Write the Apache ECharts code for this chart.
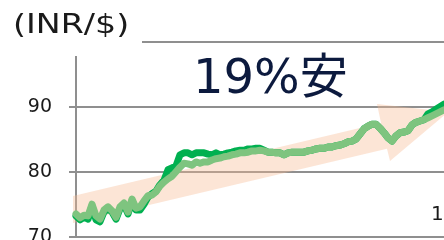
<!DOCTYPE html>
<html>
<head>
<meta charset="utf-8">
<script src="https://cdn.jsdelivr.net/npm/echarts@6/dist/echarts.min.js"></script>
<style>
html, body { margin: 0; padding: 0; background: #fff; }
#chart { width: 444px; height: 240px; }
</style>
</head>
<body>
<div id="chart"></div>
<script>
// INR per USD (evenly spaced samples)
var rateLight = [
	73.5, 72.9, 73.3, 73.2, 75.0, 73.2, 72.7, 74.1, 74.6, 74.0,
	73.0, 74.6, 75.2, 73.8, 75.8, 74.4, 74.6, 75.5, 76.3, 76.4,
	76.9, 77.8, 78.4, 78.9, 79.3, 80.0, 80.7, 81.3, 81.2, 81.0,
	81.5, 81.3, 81.5, 81.5, 81.8, 82.0, 82.1, 82.3, 82.4, 82.6,
	82.7, 82.9, 82.9, 83.0, 83.2, 83.2, 83.3, 83.2, 83.0, 83.0,
	82.9, 82.9, 82.6, 82.9, 83.0, 83.0, 83.0, 83.0, 83.2, 83.3,
	83.5, 83.6, 83.6, 83.8, 83.8, 84.0, 84.1, 84.3, 84.6, 84.7,
	85.0, 85.8, 86.6, 87.0, 87.3, 87.3, 86.7, 86.0, 85.2, 84.7,
	85.5, 86.0, 86.1, 86.3, 87.2, 87.6, 87.8, 88.0, 88.3, 88.6,
	88.9, 89.2, 89.5
];
var rateDark = [
	73.2, 72.6, 73.0, 72.7, 74.7, 72.6, 72.3, 73.8, 74.3, 73.8,
	72.7, 74.3, 74.9, 73.5, 75.5, 74.1, 74.1, 75.0, 76.1, 76.6,
	77.0, 78.0, 78.7, 80.3, 80.6, 80.9, 82.6, 82.9, 82.9, 82.6,
	82.9, 82.9, 82.9, 82.7, 82.6, 82.9, 82.6, 82.7, 82.9, 83.0,
	83.2, 83.3, 83.3, 83.5, 83.5, 83.6, 83.6, 83.3, 83.0, 83.0,
	82.9, 82.9, 82.6, 82.9, 83.0, 83.0, 83.0, 83.0, 83.2, 83.3,
	83.5, 83.6, 83.6, 83.8, 83.8, 84.0, 84.1, 84.3, 84.6, 84.7,
	85.0, 85.8, 86.6, 87.0, 87.3, 87.3, 86.7, 86.0, 85.2, 84.7,
	85.5, 86.0, 86.1, 86.3, 87.2, 87.6, 87.8, 88.0, 88.9, 89.2,
	89.6, 90.0, 90.4
];
var yTicks = [70, 80, 90, 100];
// trend arrow outline, in [sample index, rate]
var arrowPts = [
	[-0.75, 76.26], [76.25, 87.49], [75.25, 90.42], [93, 89.18],
	[78.5, 81.65], [77.75, 83.55], [-0.75, 72.1]
];

function pairs(arr) {
	var out = [];
	for (var i = 0; i < arr.length; i++) out.push([i, arr[i]]);
	return out;
}

var chart = echarts.init(document.getElementById('chart'));
var gray = '#8f8f8f';
var option = {
	animation: false,
	grid: { left: 76, right: 0, top: 41.7, bottom: 3.3, outerBoundsMode: 'none' },
	xAxis: {
		type: 'value', min: 0, max: rateLight.length - 1,
		show: false
	},
	yAxis: {
		type: 'value', min: yTicks[0], max: yTicks[yTicks.length - 1], interval: 10,
		axisLine: { show: true, lineStyle: { color: gray, width: 2 } },
		axisTick: { show: true, length: 7, lineStyle: { color: gray, width: 2 } },
		splitLine: { show: true, lineStyle: { color: gray, width: 2 } },
		axisLabel: {
			margin: 24, fontSize: 19, color: '#1a1a1a',
			fontFamily: 'DejaVu Sans'
		}
	},
	series: [{
		type: 'line', data: pairs(rateDark), symbol: 'none', z: 3,
		lineStyle: { color: '#00b050', width: 7, cap: 'round', join: 'round' }
	}, {
		type: 'line', data: pairs(rateLight), symbol: 'none', z: 4,
		lineStyle: { color: '#7ec47f', width: 7, cap: 'round', join: 'round' }
	}]
};
chart.setOption(option);

var pts = arrowPts.map(function(p) { return chart.convertToPixel({ gridIndex: 0 }, p); });
chart.setOption({
	graphic: [{
		type: 'polygon', z: 1, silent: true,
		shape: { points: pts },
		style: { fill: 'rgba(246,186,146,0.38)' }
	}, {
		type: 'rect', z: 10, left: 0, top: 0,
		shape: { width: 142, height: 56 },
		style: { fill: '#fff' }
	}, {
		// the original font is wider, so stretch a little
		type: 'text', z: 11, x: 13, y: 26, scaleX: 1.28,
		style: { text: '(INR/$)', fontSize: 26, fontFamily: 'DejaVu Sans', fill: '#1a1a1a', verticalAlign: 'middle' }
	}, {
		type: 'text', z: 11, left: 193, top: 57,
		style: { text: '19%安', fontSize: 48, fontFamily: 'DejaVu Sans, Noto Sans CJK JP', fill: '#0c1a3e' }
	}, {
		type: 'text', z: 11, left: 431, top: 205,
		style: { text: '1', fontSize: 20, fontFamily: 'DejaVu Sans', fill: '#1a1a1a' }
	}]
});
</script>
</body>
</html>
